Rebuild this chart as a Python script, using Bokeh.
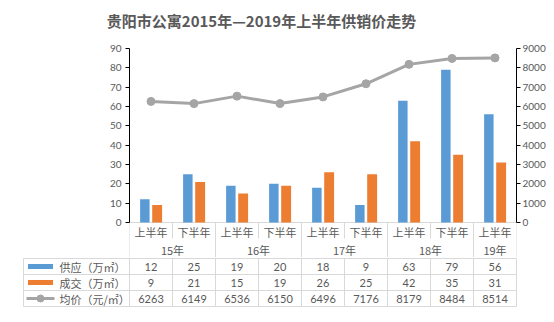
from bokeh.plotting import figure
from bokeh.models import (FactorRange, Range1d, LinearAxis, FixedTicker, ColumnDataSource)
from bokeh.transform import dodge
from bokeh.layouts import column
from bokeh.core.properties import value
from bokeh.embed import file_html
from bokeh.resources import INLINE

# ---------------- data ----------------
title_text = "贵阳市公寓2015年—2019年上半年供销价走势"
years = ["15年", "15年", "16年", "16年", "17年", "17年", "18年", "18年", "19年"]
halves = ["上半年", "下半年", "上半年", "下半年", "上半年", "下半年", "上半年", "下半年", "上半年"]
supply = [12, 25, 19, 20, 18, 9, 63, 79, 56]          # 供应（万㎡）
deal = [9, 21, 15, 19, 26, 25, 42, 35, 31]            # 成交（万㎡）
price = [6263, 6149, 6536, 6150, 6496, 7176, 8179, 8484, 8514]  # 均价（元/㎡）
series_names = ["供应（万㎡）", "成交（万㎡）", "均价（元/㎡）"]
left_ticks = list(range(0, 91, 10))
right_ticks = list(range(0, 9001, 1000))

# ---------------- styles ----------------
BLUE, ORANGE, GRAY = "#5B9BD5", "#ED7D31", "#A5A5A5"
TXT = "#595959"
GRID = "#D9D9D9"
CJK = "Noto Sans CJK SC"
NUM = "Lato"

factors = list(zip(years, halves))
n = len(factors)
src = ColumnDataSource(dict(cat=factors, supply=supply, deal=deal, price=price))

# year groups [label, start index, end index]
groups = []
for i, yv in enumerate(years):
    if groups and groups[-1][0] == yv:
        groups[-1][2] = i + 1
    else:
        groups.append([yv, i, i + 1])
year_bounds = sorted(set([g[1] for g in groups] + [g[2] for g in groups]))
inner_bounds = [i for i in range(1, n) if i not in year_bounds]


def bare(fig):
    fig.axis.visible = False
    fig.grid.visible = False
    fig.outline_line_color = None
    fig.background_fill_color = None
    fig.border_fill_color = "white"


# ---------------- title ----------------
tf = figure(width=554, height=40, x_range=Range1d(0, 554), y_range=Range1d(0, 40),
            output_backend="svg", toolbar_location=None, frame_align=False,
            min_border_left=0, min_border_right=0, min_border_top=0, min_border_bottom=0)
bare(tf)
tf.text(x=[261], y=[20.5], text=[title_text], text_align="center", text_baseline="middle",
        text_font=value(CJK), text_font_size="15px", text_font_style="bold", text_color=TXT)

# ---------------- main chart (frame runs from y=48 down to y=257 px) ----------------
PXU = 174.0 / 90.0          # pixels per unit on the left axis
below0 = (257 - 222) / PXU  # room under zero for the category labels
p = figure(width=554, height=217,
           x_range=FactorRange(*factors, factor_padding=0, group_padding=0, range_padding=0),
           y_range=Range1d(-below0, 90),
           output_backend="svg", toolbar_location=None, frame_align=False,
           min_border_left=129, min_border_right=38, min_border_top=8, min_border_bottom=0)
p.extra_y_ranges = {"price": Range1d(-below0 * 100, 9000)}
p.outline_line_color = None
p.xgrid.visible = False
p.ygrid.visible = False
p.xaxis.visible = False

y_half = -(231 - 222) / PXU
y_year = -(249 - 222) / PXU
y_inner_end = -(238 - 222) / PXU

# category-axis baseline and separators
p.segment(x0=[0], x1=[n], y0=[0], y1=[0], line_color=GRID, line_width=1)
p.segment(x0=inner_bounds, x1=inner_bounds, y0=[0] * len(inner_bounds),
          y1=[y_inner_end] * len(inner_bounds), line_color=GRID, line_width=1)
p.segment(x0=year_bounds, x1=year_bounds, y0=[0] * len(year_bounds),
          y1=[-below0] * len(year_bounds), line_color=GRID, line_width=1)

# category labels
p.text(x=[i + 0.5 for i in range(n)], y=[y_half] * n, text=halves,
       text_align="center", text_baseline="middle", text_font=value(CJK),
       text_font_size="11px", text_color=TXT)
p.text(x=[(g[1] + g[2]) / 2 for g in groups], y=[y_year] * len(groups),
       text=[g[0] for g in groups], text_align="center", text_baseline="middle",
       text_font=value(CJK), text_font_size="11px", text_color=TXT)

p.vbar(x=dodge("cat", -0.143, range=p.x_range), top="supply", width=0.22,
       source=src, fill_color=BLUE, line_color=None)
p.vbar(x=dodge("cat", 0.143, range=p.x_range), top="deal", width=0.23,
       source=src, fill_color=ORANGE, line_color=None)
p.line(x="cat", y="price", source=src, y_range_name="price",
       line_color=GRAY, line_width=3)
p.scatter(x="cat", y="price", source=src, y_range_name="price",
          size=8, fill_color=GRAY, line_color=GRAY)

ya = p.yaxis[0]
ya.ticker = FixedTicker(ticks=left_ticks)
ya.bounds = (0, 90)
ra = LinearAxis(y_range_name="price", ticker=FixedTicker(ticks=right_ticks), bounds=(0, 9000))
p.add_layout(ra, "right")
for ax, so in ((ya, 4), (ra, 2)):
    ax.axis_line_color = "black"
    ax.major_tick_line_color = "black"
    ax.major_tick_out = 4
    ax.major_tick_in = 0
    ax.minor_tick_line_color = None
    ax.major_label_text_color = TXT
    ax.major_label_text_font = NUM
    ax.major_label_text_font_size = "10px"
    ax.major_label_standoff = so

# ---------------- data table (frame from y=257 to y=307 px) ----------------
COLW = 43.0
ROWH = 16.0
legend_w = 106.0 / COLW
rows = 3
t = figure(width=554, height=65,
           x_range=Range1d(-legend_w - 1 / COLW, n + 1 / COLW),
           y_range=Range1d(-1 / ROWH, rows + 1 / ROWH),
           output_backend="svg", toolbar_location=None, frame_align=False,
           min_border_left=22, min_border_right=37, min_border_top=0, min_border_bottom=15)
bare(t)

t.segment(x0=[-legend_w] * (rows + 1), x1=[n] * (rows + 1),
          y0=list(range(rows + 1)), y1=list(range(rows + 1)),
          line_color=GRID, line_width=1)
vx = [-legend_w] + list(range(n + 1))
t.segment(x0=vx, x1=vx, y0=[0] * len(vx), y1=[rows] * len(vx),
          line_color=GRID, line_width=1)

row_vals = [supply, deal, price]
for r, vals in enumerate(row_vals):
    yy = rows - r - 0.5
    t.text(x=[i + 0.5 for i in range(n)], y=[yy] * n, text=[str(v) for v in vals],
           text_align="center", text_baseline="middle", text_font=value(NUM),
           text_font_size="11px", text_color=TXT)
    t.text(x=[-legend_w + 36 / COLW], y=[yy], text=[series_names[r]],
           text_align="left", text_baseline="middle", text_font=value(CJK),
           text_font_size="11px", text_color=TXT)

# legend keys
kx = -legend_w + 17 / COLW
t.rect(x=[kx, kx], y=[2.5, 1.5], width=25, height=5, width_units="screen",
       height_units="screen", fill_color=[BLUE, ORANGE], line_color=None)
t.segment(x0=[-legend_w + 3 / COLW], x1=[-legend_w + 31 / COLW], y0=[0.5], y1=[0.5],
          line_color=GRAY, line_width=3)
t.scatter(x=[kx], y=[0.5], size=7, fill_color=GRAY, line_color=GRAY)

layout = column(tf, p, t, spacing=0)
open("out.html", "w").write(file_html(layout, INLINE))
